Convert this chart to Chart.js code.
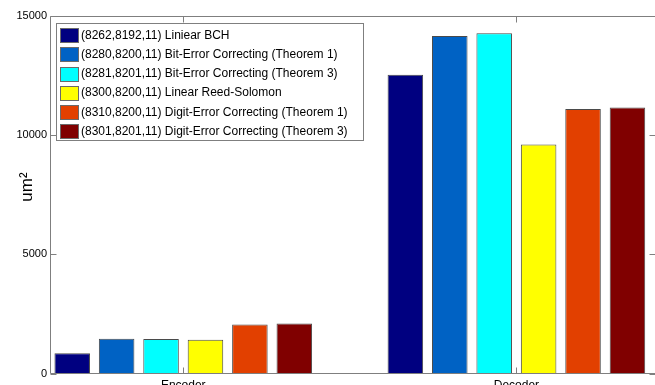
<!DOCTYPE html>
<html><head><meta charset="utf-8">
<script src="https://cdn.jsdelivr.net/npm/chart.js@4"></script>
<style>html,body{margin:0;padding:0;background:#fff;overflow:hidden}#wrap{width:655px;height:385px;position:relative}</style>
</head><body><div id="wrap"><canvas id="c" width="655" height="385"></canvas></div>
<script>
const categories = ['Encoder', 'Decoder'];
const seriesNames = [
  '(8262,8192,11) Liniear BCH',
  '(8280,8200,11) Bit-Error Correcting (Theorem 1)',
  '(8281,8201,11) Bit-Error Correcting (Theorem 3)',
  '(8300,8200,11) Linear Reed-Solomon',
  '(8310,8200,11) Digit-Error Correcting (Theorem 1)',
  '(8301,8201,11) Digit-Error Correcting (Theorem 3)'
];
const encoderValues = [850, 1460, 1450, 1410, 2050, 2090];
const decoderValues = [12520, 14140, 14260, 9600, 11080, 11150];
const yTicks = [0, 5000, 10000, 15000];
const colors = ['#000080', '#0062C4', '#00FFFF', '#FFFF00', '#E24000', '#800000'];
const yTitle = 'um\u00B2';

const FONT = "'Liberation Sans', Arial, sans-serif";
Chart.defaults.font.family = FONT;
const AXIS = '#7f7f7f';

const datasets = seriesNames.map((name, i) => ({
  label: name,
  data: [{x: 1, y: encoderValues[i]}, {x: 2, y: decoderValues[i]}],
  backgroundColor: colors[i],
  borderColor: '#4a4a4a',
  borderWidth: 1,
  categoryPercentage: 0.8,
  barPercentage: 0.8
}));

const framePlugin = {
  id: 'frame',
  afterDraw(chart) {
    const ctx = chart.ctx;
    const a = chart.chartArea;
    const xs = chart.scales.x, ys = chart.scales.y;
    ctx.save();
    ctx.strokeStyle = AXIS;
    ctx.lineWidth = 1;
    ctx.beginPath();
    const L = Math.round(a.left) + 0.5, R = Math.round(a.right) + 0.5;
    const T = Math.round(a.top) + 0.5, B = Math.round(a.bottom) - 0.5;
    ctx.moveTo(L, T); ctx.lineTo(L, B); ctx.lineTo(R, B);
    ctx.moveTo(L, T); ctx.lineTo(R, T);
    yTicks.forEach(v => {
      const y = Math.round(ys.getPixelForValue(v)) + 0.5;
      ctx.moveTo(L, y); ctx.lineTo(L + 6, y);
      ctx.moveTo(R - 6, y); ctx.lineTo(R, y);
    });
    [1, 2].forEach(v => {
      const x = Math.round(xs.getPixelForValue(v)) + 0.5;
      ctx.moveTo(x, B); ctx.lineTo(x, B - 6);
      ctx.moveTo(x, T); ctx.lineTo(x, T + 6);
    });
    ctx.stroke();

    // y title
    ctx.save();
    ctx.translate(32, 187);
    ctx.rotate(-Math.PI / 2);
    ctx.fillStyle = '#000';
    ctx.font = '17px ' + FONT;
    ctx.textAlign = 'center';
    ctx.textBaseline = 'alphabetic';
    ctx.fillText(yTitle, 0, 0);
    ctx.restore();

    // legend
    ctx.fillStyle = '#fff';
    ctx.fillRect(56.5, 23.5, 307, 117);
    ctx.strokeStyle = AXIS;
    ctx.strokeRect(56.5, 23.5, 307, 117);
    ctx.font = '12px ' + FONT;
    ctx.textAlign = 'left';
    ctx.textBaseline = 'middle';
    chart.data.datasets.forEach((ds, i) => {
      const cy = 35.3 + i * 19.1;
      ctx.fillStyle = ds.backgroundColor;
      ctx.fillRect(60.5, Math.round(cy - 7) + 0.5, 18, 14);
      ctx.strokeStyle = '#6a6a6a';
      ctx.strokeRect(60.5, Math.round(cy - 7) + 0.5, 18, 14);
      ctx.fillStyle = '#000';
      ctx.fillText(ds.label, 81, cy + 0.5);
    });
    ctx.restore();
  }
};

new Chart(document.getElementById('c'), {
  type: 'bar',
  data: { datasets },
  options: {
    responsive: false,
    animation: false,
    devicePixelRatio: 1,
    layout: { padding: { top: 15.5, left: 0, right: 0, bottom: 0 } },
    plugins: { legend: { display: false }, tooltip: { enabled: false } },
    scales: {
      x: {
        type: 'linear',
        min: 0.6,
        max: 2.416,
        offset: false,
        grid: { display: false, drawTicks: false },
        border: { display: false },
        afterBuildTicks: s => { s.ticks = [{value: 1}, {value: 2}]; },
        afterFit: s => { s.height = 11.5; },
        ticks: {
          autoSkip: false, maxRotation: 0, padding: 5,
          color: '#000', font: { size: 12 },
          callback: v => categories[v - 1]
        }
      },
      y: {
        min: 0,
        max: 15000,
        grid: { display: false, drawTicks: false },
        border: { display: false },
        afterBuildTicks: s => { s.ticks = yTicks.map(v => ({value: v})); },
        afterFit: s => { s.width = 50; },
        ticks: { padding: 3, color: '#000', font: { size: 11 }, callback: v => String(v) }
      }
    }
  },
  plugins: [framePlugin]
});
</script></body></html>
